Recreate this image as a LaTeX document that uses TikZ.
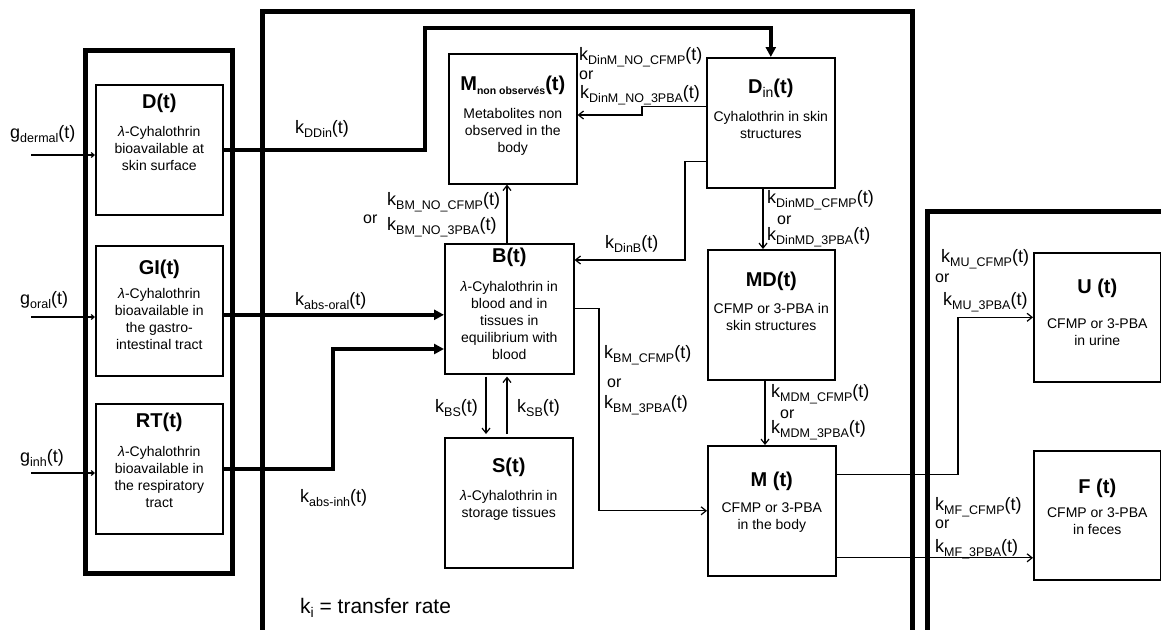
\documentclass[tikz,border=0pt]{standalone}
\usepackage{fontspec}
\setmainfont{Liberation Sans}
\usetikzlibrary{arrows.meta,calc}
\newcommand\subf{\fontsize{12.5}{13}\selectfont}
\newcommand\lb[2]{#1\raisebox{-4pt}{\subf #2}(t)}
\newcommand\lam{{\itshape λ}}
\begin{document}
\begin{tikzpicture}[x=1pt,y=-1pt,
  box/.style={draw, line width=1.6pt, inner sep=0pt, anchor=north west, minimum width=128pt, minimum height=130pt},
  ttl/.style={anchor=base, inner sep=0pt, font=\fontsize{20}{24}\selectfont\bfseries},
  body/.style={anchor=north, inner sep=0pt, align=center, font=\fontsize{14}{17}\selectfont},
  lab/.style={anchor=base west, inner sep=0pt, font=\fontsize{18}{20}\selectfont},
  orl/.style={anchor=base west, inner sep=0pt, font=\fontsize{16}{18}\selectfont},
  outerframe/.style={line width=5pt},
  thk/.style={line width=4pt, -{Triangle[length=10pt,width=10pt]}},
  thn/.style={line width=1.2pt, -{Straight Barb[length=5pt,width=8pt]}},
  thng/.style={line width=1.2pt, -{Straight Barb[length=3pt,width=5pt]}}
]
\useasboundingbox (0,0) rectangle (1161,629);
\clip (0,0) rectangle (1161,629);
\fill[white] (0,0) rectangle (1161,629);
% frames
\draw[outerframe] (85,50) rectangle (232,573);
\draw[outerframe] (262,11) rectangle (912,700);
\draw[outerframe] (927,211) rectangle (1220,700);
% boxes
\node[box, minimum width=127pt] (D) at (95,84) {};
\node[box, minimum width=127pt] (GI) at (95,245) {};
\node[box, minimum width=127pt] (RT) at (95,403) {};
\node[box] (Mn) at (448,53) {};
\node[box] (Din) at (706,57) {};
\node[box, minimum width=129pt] (B) at (444,243) {};
\node[box, minimum width=127pt] (MD) at (707,249) {};
\node[box] (S) at (444,437) {};
\node[box] (M) at (707,445) {};
\node[box, minimum width=127pt, minimum height=129pt] (U) at (1033,252) {};
\node[box, minimum width=127pt, minimum height=129pt] (F) at (1033,450) {};
% box texts
\node[ttl] (Dt) at ([yshift=-24pt]D.north) {D(t)};
\node[body] (Db) at ([yshift=-42pt]D.north) {\lam-Cyhalothrin\\bioavailable at\\skin surface};
\node[ttl] (GIt) at ([yshift=-29pt]GI.north) {GI(t)};
\node[body] (GIb) at ([yshift=-43pt]GI.north) {\lam-Cyhalothrin\\bioavailable in\\the gastro-\\intestinal tract};
\node[ttl] (RTt) at ([yshift=-24pt]RT.north) {RT(t)};
\node[body] (RTb) at ([yshift=-43pt]RT.north) {\lam-Cyhalothrin\\bioavailable in\\the respiratory\\tract};
\node[ttl] (Mnt) at ([yshift=-37pt]Mn.north) {M\raisebox{-4pt}{\fontsize{10.5}{11}\selectfont non observés}(t)};
\node[body] (Mnb) at ([yshift=-55pt]Mn.north) {Metabolites non\\observed in the\\body};
\node[ttl] (Dint) at ([yshift=-36pt]Din.north) {D\raisebox{-4pt}{\fontsize{14}{14}\selectfont\mdseries in}(t)};
\node[body] (Dinb) at ([yshift=-54pt]Din.north) {Cyhalothrin in skin\\structures};
\node[ttl] (Bt) at ([yshift=-19pt]B.north) {B(t)};
\node[body] (Bb) at ([yshift=-38pt]B.north) {\lam-Cyhalothrin in\\blood and in\\tissues in\\equilibrium with\\blood};
\node[ttl] (MDt) at ([yshift=-37pt]MD.north) {MD(t)};
\node[body] (MDb) at ([yshift=-54pt]MD.north) {CFMP or 3-PBA in\\skin structures};
\node[ttl] (St) at ([yshift=-35pt]S.north) {S(t)};
\node[body] (Sb) at ([yshift=-53pt]S.north) {\lam-Cyhalothrin in\\storage tissues};
\node[ttl] (Mt) at ([yshift=-41pt]M.north) {M (t)};
\node[body] (Mb) at ([yshift=-58pt]M.north) {CFMP or 3-PBA\\in the body};
\node[ttl] (Ut) at ([yshift=-41pt]U.north) {U (t)};
\node[body] (Ub) at ([yshift=-67pt]U.north) {CFMP or 3-PBA\\in urine};
\node[ttl] (Ft) at ([yshift=-43pt]F.north) {F (t)};
\node[body] (Fb) at ([yshift=-58pt]F.north) {CFMP or 3-PBA\\in feces};
% inputs
\coordinate (gd) at (31,155);
\coordinate (go) at (31,317);
\coordinate (gi) at (31,473);
\draw[thng] (gd) -- (gd -| D.west);
\draw[thng] (go) -- (go -| GI.west);
\draw[thng] (gi) -- (gi -| RT.west);
% thick connectors
\coordinate (c1) at (425,28);
\draw[thk] (D.east) -| (c1) -| (Din.north);
\draw[thk] ([yshift=-4pt]GI.east) -- ([yshift=-4pt]GI.east -| B.west);
\coordinate (c2) at (333,349);
\draw[thk] (RT.east) -| (c2) -- (c2 -| B.west);
% thin connectors
\coordinate (c3) at (642,115);
\draw[thn] ([yshift=16pt]Din.west) -| (c3) -- (c3 -| Mn.east);
\coordinate (c4) at (685,260);
\draw[thn] ([yshift=-39pt]Din.west) -| (c4) -- (c4 -| B.east);
\coordinate (c5) at (507,0);
\draw[thn] (B.north -| c5) -- (Mn.south -| c5);
\coordinate (c6) at (763,0);
\draw[thn] (Din.south -| c6) -- (MD.north -| c6);
\coordinate (c7) at (599,0);
\draw[thn] (B.east) -| (c7 |- M.west) -- (M.west);
\coordinate (c8) at (486,0);
\draw[thn, shorten <=2pt, shorten >=3pt] (B.south -| c8) -- (S.north -| c8);
\draw[thn, shorten <=3pt, shorten >=2pt] (S.north -| c5) -- (B.south -| c5);
\coordinate (c9) at (765,0);
\draw[thn] (MD.south -| c9) -- (M.north -| c9);
\coordinate (c10) at (958,0);
\draw[thn] ([yshift=36pt]M.east) -| (c10 |- U.west) -- (U.west);
\draw[thn] ([yshift=-47pt]M.east) -- ([yshift=-47pt]M.east -| F.west);
% labels
\node[lab] (lgd) at (10,138) {\lb{g}{dermal}};
\node[lab] (lgo) at (20,304) {\lb{g}{oral}};
\node[lab] (lgi) at (20,462) {\lb{g}{inh}};
\node[lab] (lDDin) at (295,133) {\lb{k}{DDin}};
\node[lab] (lao) at (295,305) {\lb{k}{abs-oral}};
\node[lab] (lai) at (300,502) {\lb{k}{abs-inh}};
\node[anchor=base west, inner sep=0pt, font=\fontsize{21}{24}\selectfont] (lki) at (300,613) {k\raisebox{-4pt}{\fontsize{14}{14}\selectfont i} = transfer rate};
\node[lab] (lDM1) at (579,60) {\lb{k}{DinM\_NO\_CFMP}};
\node[orl] (oDM) at (579,79) {or};
\node[lab] (lDM2) at (580,98) {\lb{k}{DinM\_NO\_3PBA}};
\node[lab] (lBN1) at (387,205) {\lb{k}{BM\_NO\_CFMP}};
\node[orl] (oBN) at (363,223) {or};
\node[lab] (lBN2) at (387,230) {\lb{k}{BM\_NO\_3PBA}};
\node[lab] (lDB) at (605,248) {\lb{k}{DinB}};
\node[lab] (lDMD1) at (767,203) {\lb{k}{DinMD\_CFMP}};
\node[orl] (oDMD) at (777,224) {or};
\node[lab] (lDMD2) at (767,240) {\lb{k}{DinMD\_3PBA}};
\node[lab] (lBM1) at (604,358) {\lb{k}{BM\_CFMP}};
\node[orl] (oBM) at (607,387) {or};
\node[lab] (lBM2) at (604,408) {\lb{k}{BM\_3PBA}};
\node[lab] (lBS) at (435,412) {\lb{k}{BS}};
\node[lab] (lSB) at (517,412) {\lb{k}{SB}};
\node[lab] (lMDM1) at (771,397) {\lb{k}{MDM\_CFMP}};
\node[orl] (oMDM) at (780,418) {or};
\node[lab] (lMDM2) at (771,433) {\lb{k}{MDM\_3PBA}};
\node[lab] (lMU1) at (941,262) {\lb{k}{MU\_CFMP}};
\node[orl] (oMU) at (935,282) {or};
\node[lab] (lMU2) at (943,305) {\lb{k}{MU\_3PBA}};
\node[lab] (lMF1) at (935,510) {\lb{k}{MF\_CFMP}};
\node[orl] (oMF) at (935,528) {or};
\node[lab] (lMF2) at (935,552) {\lb{k}{MF\_3PBA}};
\end{tikzpicture}
\end{document}
